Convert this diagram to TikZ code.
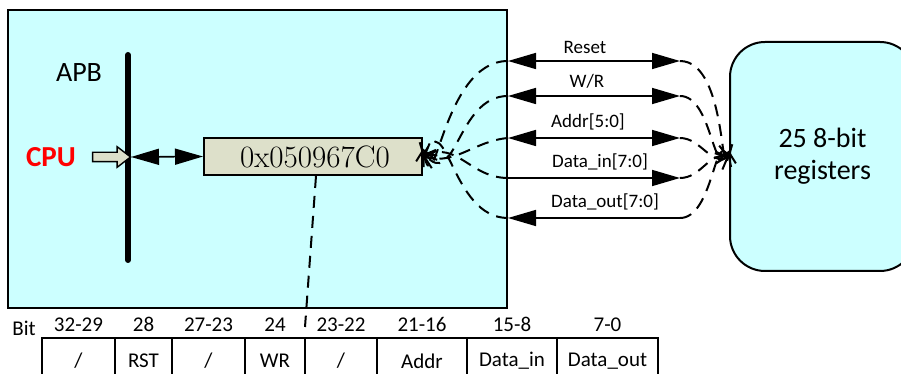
\documentclass[tikz,border=0pt]{standalone}
\usepackage{fontspec}
\setsansfont{Carlito}
\usetikzlibrary{arrows.meta,shapes.arrows}

\definecolor{chipcyan}{RGB}{204,255,255}
\definecolor{regbeige}{RGB}{221,224,202}

\begin{document}
\begin{tikzpicture}[x=0.5pt, y=-0.5pt, font=\sffamily]
    % Estilos
    \tikzstyle{chip}=[draw, line width=1pt, fill=chipcyan]
    \tikzstyle{sig}=[line width=0.8pt]
    \tikzstyle{both}=[{Triangle[length=14pt,width=8pt]}-{Triangle[length=14pt,width=8pt]}]
    \tikzstyle{tohead}=[-{Triangle[length=14pt,width=8pt]}]
    \tikzstyle{fromhead}=[{Triangle[length=14pt,width=8pt]}-]
    \tikzstyle{link}=[line width=1pt, dash pattern=on 6pt off 4pt, -{Straight Barb[length=5pt,width=9pt]}]
    \tikzstyle{siglbl}=[above, font=\fontsize{9.5}{11}\selectfont\sffamily]
    \tikzstyle{cell}=[draw, line width=1pt, minimum height=23pt, inner sep=0pt, font=\fontsize{10.5}{12}\selectfont\sffamily]
    \tikzstyle{bitlbl}=[font=\fontsize{10.5}{12}\selectfont\sffamily]
    \clip (0,0) rectangle (901,374);
    % Bloque APB
    \node[chip, minimum width=249.5pt, minimum height=149pt] (apb) at (257.5,159) {};
    \node[font=\fontsize{14}{16}\selectfont\sffamily] (apblbl) at (79,73) {APB};
    % Bus
    \coordinate (bustop) at (128,55);
    \coordinate (busbot) at (128,260);
    \coordinate (busr) at (131,157);
    \draw[line width=3pt, line cap=round] (bustop) -- (busbot);
    % CPU
    \node[text=red, font=\fontsize{14.5}{16}\selectfont\sffamily\bfseries] (cpu) at (51,157) {CPU};
    \node[single arrow, draw, fill=regbeige, line width=0.7pt, inner sep=2pt,
          minimum height=19pt, minimum width=9.5pt, single arrow head extend=2.8pt,
          single arrow tip angle=75] (cpuin) at (108.5,157) {};
    % Registro de direccion
    \node[draw, line width=1pt, fill=regbeige, minimum width=109pt, minimum height=18.5pt, inner sep=0pt,
          font=\fontsize{15.5}{17}\selectfont\rmfamily] (reg) at (313,156.5) {\hspace*{2pt}0x050967C0};
    \draw[sig, both] (busr) -- (reg.west);
    % Banco de registros
    \node[chip, rounded corners=17.5pt, minimum width=92.5pt, minimum height=114.5pt, align=center,
          font=\fontsize{14}{16}\selectfont\sffamily] (regs) at (822.5,156.5) {25 8-bit\\registers};
    % Senales
    \coordinate (rL) at (508,61);  \coordinate (rR) at (680,61);
    \coordinate (wL) at (508,96);  \coordinate (wR) at (680,96);
    \coordinate (aL) at (508,138); \coordinate (aR) at (680,138);
    \coordinate (iL) at (508,178); \coordinate (iR) at (680,178);
    \coordinate (oL) at (508,218); \coordinate (oR) at (680,218);
    \draw[sig, both] (rL) -- (rR) node[siglbl, midway, xshift=-4.5pt] {Reset};
    \draw[sig, both] (wL) -- (wR) node[siglbl, midway, xshift=-3.5pt] {W/R};
    \draw[sig, both] (aL) -- (aR) node[siglbl, midway, xshift=-3pt] {Addr[5:0]};
    \draw[sig, tohead] (iL) -- (iR) node[siglbl, midway, xshift=3pt] {Data\_in[7:0]};
    \draw[sig, fromhead] (oL) -- (oR) node[siglbl, midway, xshift=5.5pt] {Data\_out[7:0]};
    % Conexiones punteadas al registro
    \draw[link] (rL) to[out=180, in=-80, looseness=1.4] ([yshift=4pt]reg.east);
    \draw[link] (wL) to[out=180, in=-50, looseness=1.3] ([yshift=2pt]reg.east);
    \draw[link] (aL) to[out=185, in=-15] (reg.east);
    \draw[link] (iL) to[out=180, in=25, looseness=1.1] (reg.east);
    \draw[link] (oL) to[out=180, in=65, looseness=1.4] (reg.east);
    % Conexiones punteadas al banco
    \draw[link] (rR) to[out=0, in=-100, looseness=1.2] ([yshift=3pt]regs.west);
    \draw[link] (wR) to[out=0, in=-120, looseness=1.1] ([yshift=2pt]regs.west);
    \draw[link] (aR) to[out=0, in=-155] (regs.west);
    \draw[link] (iR) to[out=0, in=170] (regs.west);
    \draw[link] (oR) to[out=0, in=115, looseness=1.1] ([yshift=-1pt]regs.west);
    % Formato de la palabra
    \node[bitlbl] (bit) at (24,328) {Bit};
    \node[cell, minimum width=36.5pt] (c1) at (78.5,361) {/};
    \node[cell, minimum width=28.5pt] (c2) at (143.5,361) {RST};
    \node[cell, minimum width=36.5pt] (c3) at (208.5,361) {/};
    \node[cell, minimum width=30pt] (c4) at (275,361) {WR};
    \node[cell, minimum width=36pt] (c5) at (341,361) {/};
    \node[cell, minimum width=45pt] (c6) at (422,361) {Addr};
    \node[cell, minimum width=45pt] (c7) at (512,361) {Data\_in};
    \node[cell, minimum width=50.5pt] (c8) at (607.5,361) {Data\_out};
    \node[bitlbl, above=-1pt] (h1) at (c1.north) {32-29};
    \node[bitlbl, above=-1pt] (h2) at (c2.north) {28};
    \node[bitlbl, above=-1pt] (h3) at (c3.north) {27-23};
    \node[bitlbl, above=-1pt] (h4) at (c4.north) {24};
    \node[bitlbl, above=-1pt] (h5) at (c5.north) {23-22};
    \node[bitlbl, above=-1pt] (h6) at (c6.north) {21-16};
    \node[bitlbl, above=-1pt] (h7) at (c7.north) {15-8};
    \node[bitlbl, above=-1pt] (h8) at (c8.north) {7-0};
    % Enlace registro - formato
    \coordinate (regdown) at (316,176);
    \coordinate (fmt) at (305,327);
    \draw[line width=1pt, dash pattern=on 6pt off 4pt] (regdown) -- (fmt);
\end{tikzpicture}
\end{document}
